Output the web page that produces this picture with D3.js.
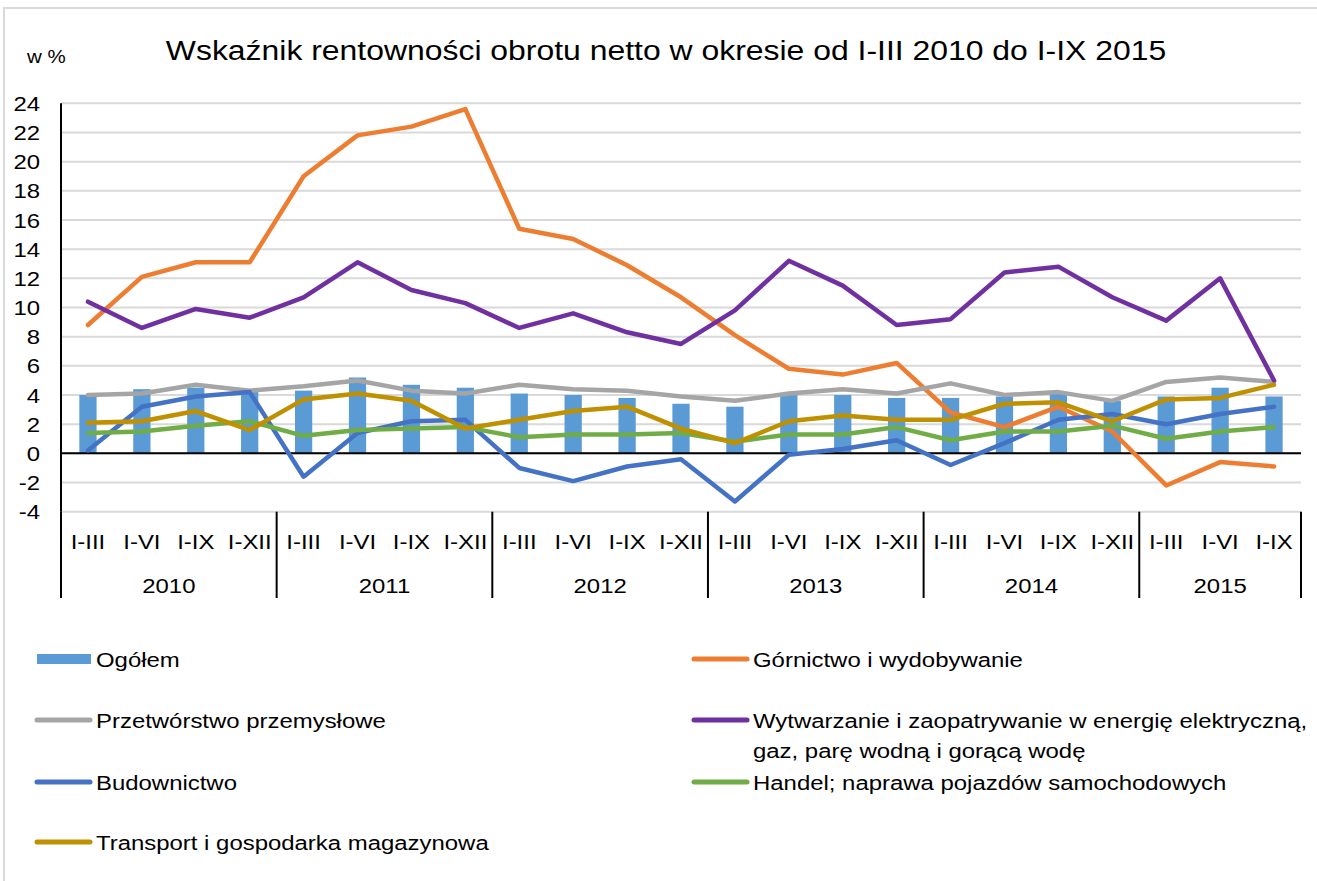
<!DOCTYPE html>
<html>
<head>
<meta charset="utf-8">
<script src="https://cdn.jsdelivr.net/npm/d3@7"></script>
<style>
  body { margin: 0; background: #fff; }
  svg { display: block; font-family: "Liberation Sans", Arial, sans-serif; }
</style>
</head>
<body>
<svg id="chart" width="1317" height="881"></svg>
<script>
// categories (okresy) and the year each one belongs to
var periods = ['I-III','I-VI','I-IX','I-XII','I-III','I-VI','I-IX','I-XII','I-III','I-VI','I-IX','I-XII',
               'I-III','I-VI','I-IX','I-XII','I-III','I-VI','I-IX','I-XII','I-III','I-VI','I-IX'];
var periodYears = ['2010','2010','2010','2010','2011','2011','2011','2011','2012','2012','2012','2012',
                   '2013','2013','2013','2013','2014','2014','2014','2014','2015','2015','2015'];
var years = ['2010','2011','2012','2013','2014','2015'];
var yTicks = [-4,-2,0,2,4,6,8,10,12,14,16,18,20,22,24];

// series values (w %)
var ogolem       = [4.0,4.4,4.5,4.3, 4.3,5.2,4.7,4.5, 4.1,4.0,3.8,3.4, 3.2,4.0,4.0,3.8, 3.8,3.9,4.1,3.6, 3.9,4.5,3.9];
var gornictwo    = [8.8,12.1,13.1,13.1, 19.0,21.8,22.4,23.6, 15.4,14.7,12.9,10.7, 8.1,5.8,5.4,6.2, 2.8,1.8,3.2,1.5, -2.2,-0.6,-0.9];
var przetworstwo = [4.0,4.1,4.7,4.3, 4.6,5.0,4.3,4.1, 4.7,4.4,4.3,3.9, 3.6,4.1,4.4,4.1, 4.8,4.0,4.2,3.6, 4.9,5.2,4.9];
var wytwarzanie  = [10.4,8.6,9.9,9.3, 10.7,13.1,11.2,10.3, 8.6,9.6,8.3,7.5, 9.8,13.2,11.5,8.8, 9.2,12.4,12.8,10.7, 9.1,12.0,5.0];
var budownictwo  = [0.2,3.2,3.9,4.2, -1.6,1.4,2.2,2.3, -1.0,-1.9,-0.9,-0.4, -3.3,-0.1,0.3,0.9, -0.8,0.7,2.3,2.7, 2.0,2.7,3.2];
var handel       = [1.4,1.5,1.9,2.2, 1.2,1.6,1.7,1.8, 1.1,1.3,1.3,1.4, 0.8,1.3,1.3,1.8, 0.9,1.5,1.5,1.9, 1.0,1.5,1.8];
var transport    = [2.1,2.2,2.9,1.6, 3.7,4.1,3.6,1.7, 2.3,2.9,3.2,1.7, 0.7,2.2,2.6,2.3, 2.3,3.4,3.5,2.2, 3.7,3.8,4.7];

var lineSeries = [
  { name: 'Górnictwo i wydobywanie', values: gornictwo, color: '#ed7d31' },
  { name: 'Przetwórstwo przemysłowe', values: przetworstwo, color: '#a5a5a5' },
  { name: 'Wytwarzanie i zaopatrywanie w energię elektryczną,|gaz, parę wodną i gorącą wodę', values: wytwarzanie, color: '#7030a0' },
  { name: 'Budownictwo', values: budownictwo, color: '#4472c4' },
  { name: 'Handel; naprawa pojazdów samochodowych', values: handel, color: '#70ad47' },
  { name: 'Transport i gospodarka magazynowa', values: transport, color: '#bf9000' }
];
var barColor = '#5b9bd5';

var svg = d3.select('#chart');
var plotLeft = 61, plotRight = 1301, plotTop = 103.3, plotBottom = 511.7;
var stretch = 'scale(1.14,1)'; // text in the reference is a bit wider than plain Arial

// outer frame
svg.append('rect')
  .attr('x', 4).attr('y', 8).attr('width', 1330).attr('height', 900)
  .style('fill', 'none').style('stroke', '#d9d9d9').style('stroke-width', 2);

var x = d3.scaleBand().domain(d3.range(periods.length)).range([plotLeft, plotRight]);
var y = d3.scaleLinear().domain([-4, 24]).range([plotBottom, plotTop]);

function label(sel, size, anchor) {
  return sel.append('text')
    .attr('transform', stretch)
    .attr('dy', '0.36em')
    .attr('text-anchor', anchor)
    .style('font-size', size + 'px');
}

// grid
svg.selectAll('line.grid').data(yTicks)
  .enter().append('line')
    .attr('class', 'grid')
    .attr('x1', plotLeft).attr('x2', plotRight)
    .attr('y1', y).attr('y2', y)
    .style('stroke', '#d9d9d9').style('stroke-width', 2);

// y labels
var yl = svg.selectAll('g.ytick').data(yTicks)
  .enter().append('g')
    .attr('class', 'ytick')
    .attr('transform', function(d) { return 'translate(40,' + y(d) + ')'; });
label(yl, 21, 'end').text(function(d) { return d; });

// bars
var bw = x.bandwidth() * 0.32;
svg.selectAll('rect.bar').data(ogolem)
  .enter().append('rect')
    .attr('class', 'bar')
    .attr('x', function(d, i) { return x(i) + (x.bandwidth() - bw) / 2; })
    .attr('y', function(d) { return y(Math.max(0, d)); })
    .attr('width', bw)
    .attr('height', function(d) { return Math.abs(y(d) - y(0)); })
    .style('fill', barColor);

// axis lines
svg.append('line')
  .attr('x1', plotLeft).attr('x2', plotRight).attr('y1', y(0)).attr('y2', y(0))
  .style('stroke', '#000').style('stroke-width', 2);
svg.append('line')
  .attr('x1', plotLeft).attr('x2', plotLeft).attr('y1', plotTop).attr('y2', plotBottom)
  .style('stroke', '#000').style('stroke-width', 2);

// lines
var line = d3.line()
  .x(function(d, i) { return x(i) + x.bandwidth() / 2; })
  .y(function(d) { return y(d); });

svg.selectAll('path.series').data(lineSeries)
  .enter().append('path')
    .attr('class', 'series')
    .attr('d', function(d) { return line(d.values); })
    .style('fill', 'none')
    .style('stroke', function(d) { return d.color; })
    .style('stroke-width', 4.5)
    .style('stroke-linejoin', 'round')
    .style('stroke-linecap', 'round');

// category axis (two levels)
var pl = svg.selectAll('g.period').data(periods)
  .enter().append('g')
    .attr('class', 'period')
    .attr('transform', function(d, i) { return 'translate(' + (x(i) + x.bandwidth() / 2) + ',541)'; });
label(pl, 21, 'middle').text(function(d) { return d; });

var yearGroups = years.map(function(yr) {
  var idx = periodYears.map(function(p, i) { return p === yr ? i : -1; }).filter(function(i) { return i >= 0; });
  return { year: yr, start: x(idx[0]), end: x(idx[idx.length - 1]) + x.bandwidth() };
});

var yg = svg.selectAll('g.year').data(yearGroups)
  .enter().append('g')
    .attr('class', 'year')
    .attr('transform', function(d) { return 'translate(' + (d.start + d.end) / 2 + ',585)'; });
label(yg, 21, 'middle').text(function(d) { return d.year; });

var seps = yearGroups.map(function(d) { return d.start; }).concat([plotRight]);
svg.selectAll('line.sep').data(seps)
  .enter().append('line')
    .attr('class', 'sep')
    .attr('x1', function(d) { return d; }).attr('x2', function(d) { return d; })
    .attr('y1', plotBottom).attr('y2', 598)
    .style('stroke', '#000').style('stroke-width', 2);

// title and unit
label(svg.append('g').attr('transform', 'translate(666,50)'), 28, 'middle')
  .text('Wskaźnik rentowności obrotu netto w okresie od I-III 2010 do I-IX 2015');
label(svg.append('g').attr('transform', 'translate(27,57)'), 18, 'start')
  .text('w %');

// legend
var legendItems = [{ name: 'Ogółem', color: barColor, bar: true }].concat(lineSeries);
var colX = [35, 692], rowY = [659, 720, 782, 842];
var leg = svg.selectAll('g.legend').data(legendItems)
  .enter().append('g')
    .attr('class', 'legend')
    .attr('transform', function(d, i) {
      return 'translate(' + colX[i % 2] + ',' + rowY[Math.floor(i / 2)] + ')';
    });

leg.each(function(d) {
  var g = d3.select(this);
  if (d.bar) {
    g.append('rect').attr('x', 2).attr('y', -5).attr('width', 54).attr('height', 10).style('fill', d.color);
  } else {
    g.append('line').attr('x1', 2).attr('x2', 55).attr('y1', 0).attr('y2', 0)
      .style('stroke', d.color).style('stroke-width', 5).style('stroke-linecap', 'round');
  }
  var t = g.append('g').attr('transform', 'translate(61,0)');
  var txt = label(t, 21, 'start').attr('dy', null);
  d.name.split('|').forEach(function(s, k) {
    txt.append('tspan').attr('x', 0).attr('dy', k === 0 ? '0.36em' : '1.45em').text(s);
  });
});
</script>
</body>
</html>
